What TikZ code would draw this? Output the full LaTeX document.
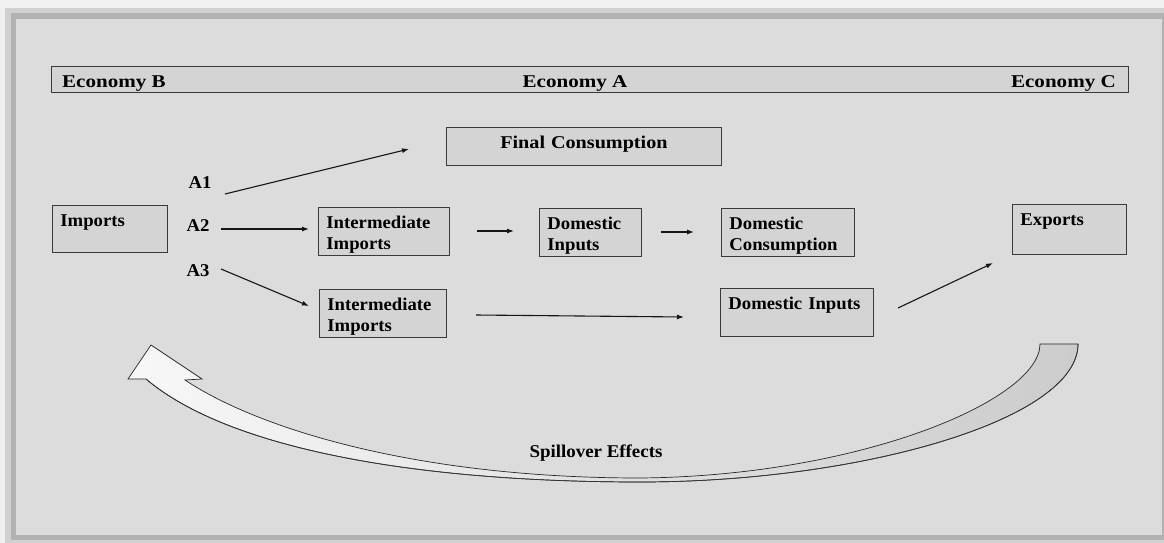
\documentclass[tikz,border=0pt]{standalone}
\usepackage{fontspec}
\setmainfont{Liberation Serif}
\newfontfamily\fsBox[FakeStretch=1.04]{Liberation Serif}
\newfontfamily\fsEcon[FakeStretch=1.17]{Liberation Serif}
\newfontfamily\fsFinal[FakeStretch=1.12]{Liberation Serif}
\newfontfamily\fsSpill[FakeStretch=1.05]{Liberation Serif}
\usetikzlibrary{arrows.meta}
\definecolor{bgc}{HTML}{DCDCDC}
\definecolor{outerc}{HTML}{F0F0F0}
\definecolor{framea}{HTML}{D0D0D0}
\definecolor{frameb}{HTML}{B2B2B2}
\definecolor{boxfill}{HTML}{D4D4D4}
\definecolor{boxline}{HTML}{3A3A3A}
\definecolor{arrc}{HTML}{151515}
\newcommand{\dsize}{\fontsize{18}{21}\selectfont\bfseries}
\begin{document}
\begin{tikzpicture}[x=1pt,y=-1pt,
  box/.style={draw=boxline, fill=boxfill, line width=0.9pt, anchor=north west,
    inner xsep=8pt, inner ysep=0pt, align=left, font=\fsBox\dsize, text height=21.5pt},
  hdr/.style={font=\fsEcon\dsize, inner sep=0pt},
  lab/.style={font=\fsBox\dsize, inner sep=0pt, anchor=base},
  conn/.style={draw=arrc, line width=1.1pt, -{Latex[length=7pt,width=5pt]}}]
\useasboundingbox (0,0) rectangle (1164,543);
% frame
\fill[outerc] (0,0) rectangle (1164,543);
\fill[framea] (5,8) rectangle (1164,543);
\fill[frameb] (11,13) rectangle (1164,540);
\fill[bgc] (16,19) rectangle (1162,535);
% header bar
\node[draw=boxline, fill=boxfill, line width=0.9pt, minimum width=1077pt, minimum height=26pt,
  anchor=north west, inner sep=0pt] (bar) at (51,66) {};
\node[hdr, anchor=base west] (econB) at (62,87) {Economy B};
\node[hdr, anchor=base] (econA) at (575,87) {Economy A};
\node[hdr, anchor=base east] (econC) at (1116,87) {Economy C};
% boxes
\node[box, text width=259pt, text depth=16.5pt, align=center, font=\fsFinal\dsize] (final) at (446,127) {Final Consumption};
\node[box, text width=99pt, text depth=25.5pt] (imports) at (52,205) {Imports};
\node[box, text width=115pt, text depth=26.5pt] (intA) at (318,207) {Intermediate\\Imports};
\node[box, text width=111pt, text depth=26.5pt] (intB) at (319,289) {Intermediate\\Imports};
\node[box, text width=86pt, text depth=26.5pt] (domin) at (539,208) {Domestic\\Inputs};
\node[box, text width=117pt, text depth=26.5pt] (domcons) at (721,208) {Domestic\\Consumption};
\node[box, text width=137pt, text depth=26.5pt] (dominB) at (720,288) {Domestic Inputs};
\node[box, text width=98pt, text depth=28.5pt] (exports) at (1012,204) {Exports};
% labels
\node[lab] (A1) at (200,188) {A1};
\node[lab] (A2) at (198,231) {A2};
\node[lab] (A3) at (198,276) {A3};
% connector end points
\coordinate (a1s) at (225,194); \coordinate (a1e) at (409,149);
\coordinate (a2s) at (221,229); \coordinate (a2e) at (309,229);
\coordinate (a3s) at (221,269); \coordinate (a3e) at (309,306);
\coordinate (d1s) at (477,231); \coordinate (d1e) at (514,231);
\coordinate (d2s) at (661,232); \coordinate (d2e) at (694,232);
\coordinate (d3s) at (476,315); \coordinate (d3e) at (684,317);
\coordinate (d4s) at (898,308); \coordinate (d4e) at (993,263);
\draw[conn] (a1s) -- (a1e);
\draw[conn] (a2s) -- (a2e);
\draw[conn] (a3s) -- (a3e);
\draw[conn] (d1s) -- (d1e);
\draw[conn] (d2s) -- (d2e);
\draw[conn] (d3s) -- (d3e);
\draw[conn] (d4s) -- (d4e);
% spillover arrow
\shade[left color=gray!6, right color=gray!40, draw=black!85, line width=0.7pt, line join=miter]
  (146,379) .. controls (230,450) and (420,482) .. (640,482)
  .. controls (860,482) and (1078,420) .. (1078,344)
  -- (1040,344)
  .. controls (1040,400) and (860,476) .. (640,478)
  .. controls (420,478) and (260,430) .. (185,380)
  -- (202,379) -- (151,345) -- (128,379) -- cycle;
\draw[black!80, line width=0.7pt]
  (146,379) .. controls (230,450) and (420,482) .. (640,482)
  .. controls (860,482) and (1078,420) .. (1078,344);
\node[lab, font=\fsSpill\dsize] (spill) at (596,457) {Spillover Effects};
\end{tikzpicture}
\end{document}
